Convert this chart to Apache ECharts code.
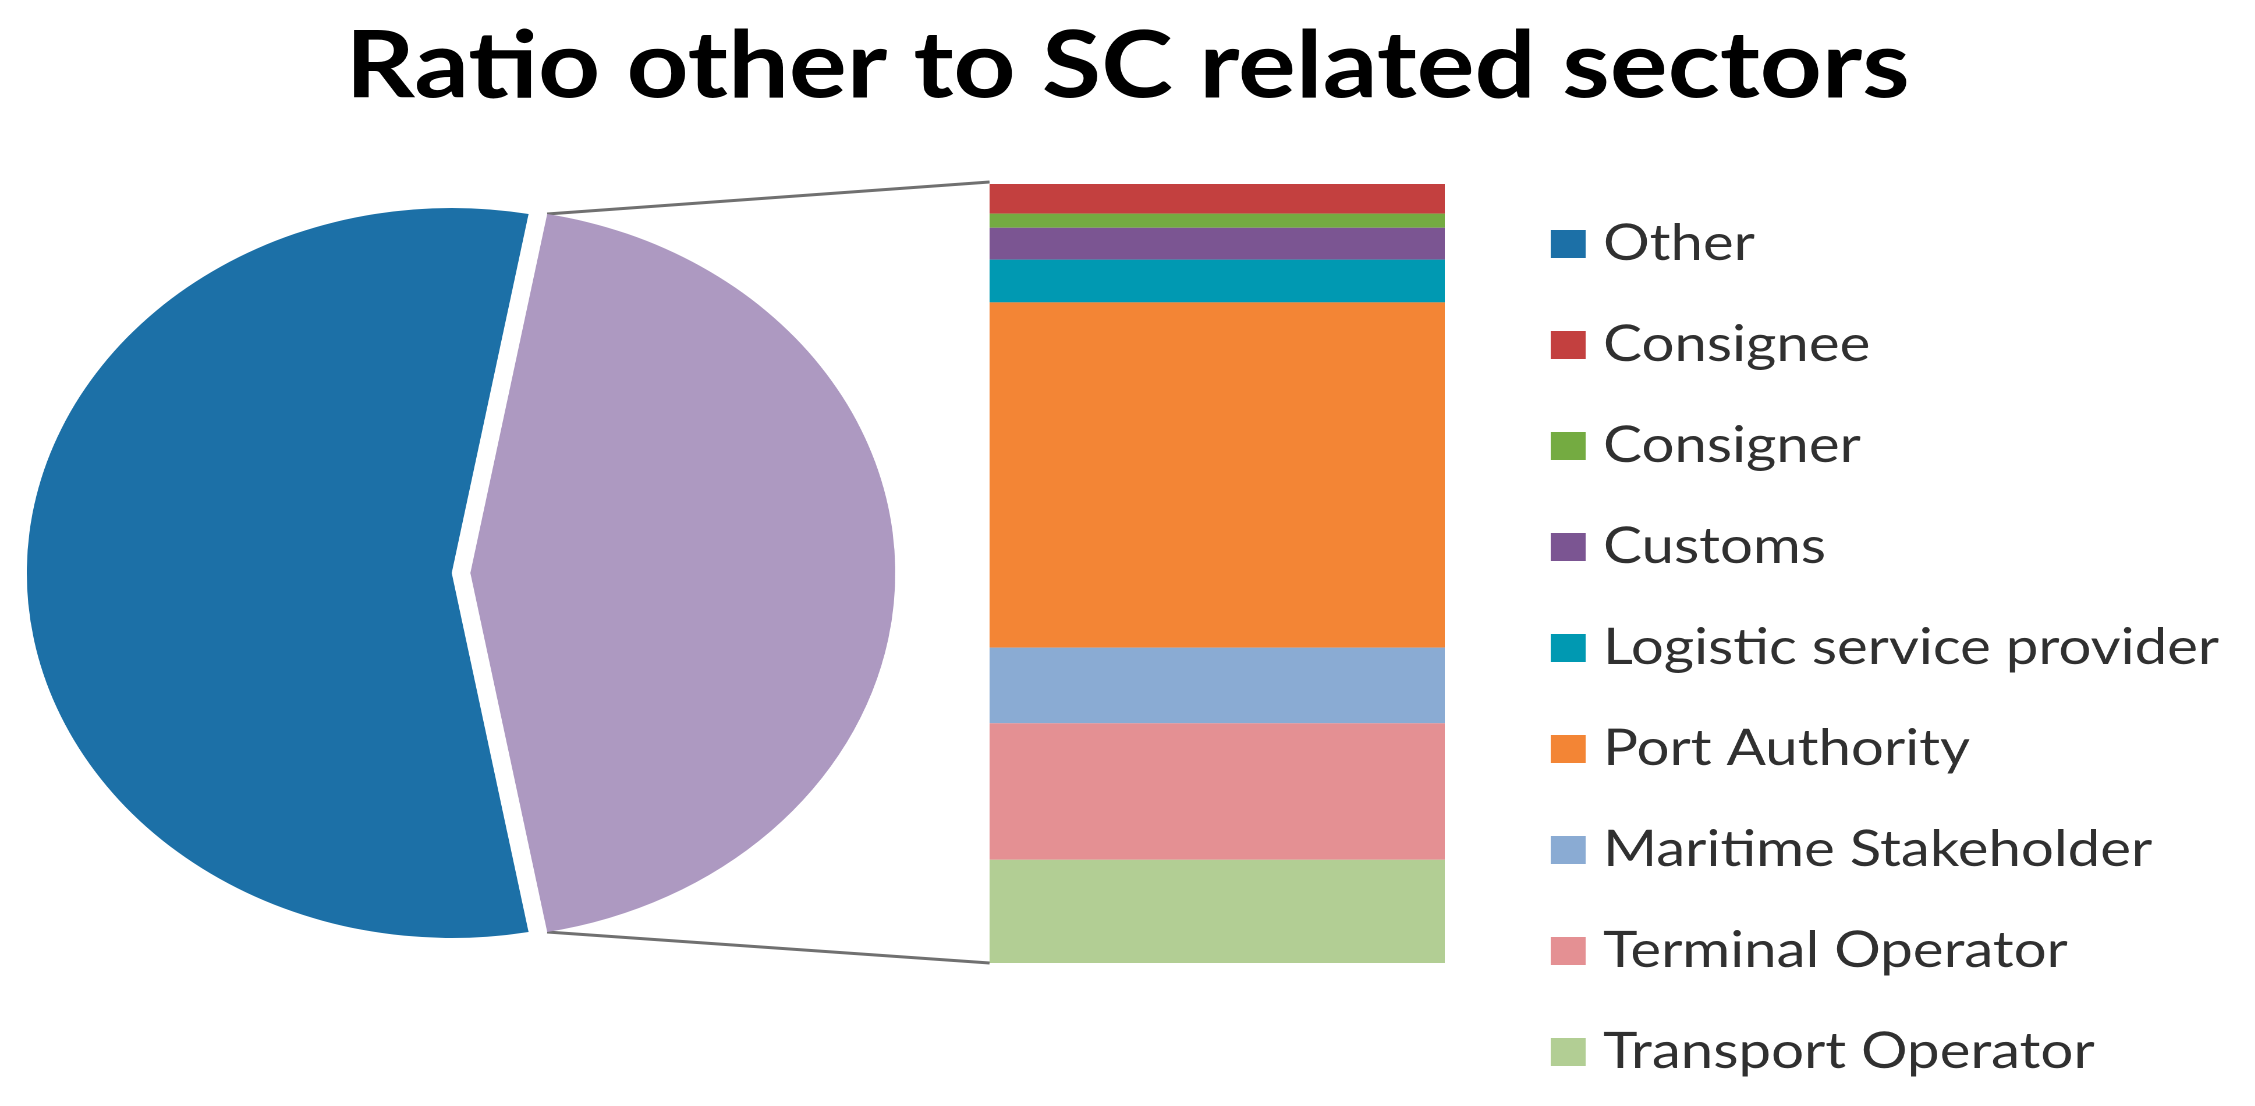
<!DOCTYPE html>
<html>
<head>
<meta charset="utf-8">
<script src="https://cdn.jsdelivr.net/npm/echarts@6/dist/echarts.min.js"></script>
<style>
  html, body { margin: 0; padding: 0; overflow: hidden; background: #fff; }
  /* the source picture is an Excel chart stretched sideways, so the chart is drawn narrow and widened */
  #main { width: 1937px; height: 1106px; transform: scaleX(1.1642); transform-origin: 0 0; }
</style>
</head>
<body>
<div id="main"></div>
<script>
// shares (percent of all respondents)
var otherShare = 55.8;
var sectors = ['Consignee', 'Consigner', 'Customs', 'Logistic service provider',
  'Port Authority', 'Maritime Stakeholder', 'Terminal Operator', 'Transport Operator'];
var sectorShares = [1.68, 0.80, 1.81, 2.43, 19.6, 4.29, 7.75, 5.86];

var sectorColors = ['#c3403f', '#74ab41', '#7b5592', '#0099b2',
  '#f38535', '#8aabd3', '#e49093', '#b2ce94'];

// layout (in the un-stretched frame)
var PIE_X = 396, PIE_Y = 573, PIE_R = 365, EXPLODE = 8;
var BAR_L = 850, BAR_T = 184, BAR_W = 391, BAR_H = 779;

var scTotal = sectorShares.reduce(function (a, b) { return a + b; }, 0);
// the SC slice sits centred on the right-hand side, like Excel's bar of pie
var startAngle = 180 * scTotal / (scTotal + otherShare);

var myChart = echarts.init(document.getElementById('main'), null, { devicePixelRatio: 2 });

var bars = sectors.map(function (name, i) {
  return {
    type: 'bar',
    name: name,
    stack: 'sc',
    barWidth: '100%',
    silent: true,
    data: [sectorShares[i]],
    itemStyle: { color: sectorColors[i] }
  };
});

myChart.setOption({
  animation: false,
  title: {
    text: 'Ratio other to SC related sectors',
    left: 'center',
    top: 16,
    textStyle: { fontFamily: 'Lato', fontWeight: 'bold', fontSize: 93, color: '#000' }
  },
  legend: {
    orient: 'vertical',
    left: 1332,
    top: 219,
    padding: 0,
    icon: 'rect',
    itemWidth: 30,
    itemHeight: 28,
    itemGap: 51,
    selectedMode: false,
    data: ['Other'].concat(sectors),
    textStyle: { fontFamily: 'Lato', fontSize: 50, lineHeight: 50, color: '#303030', padding: [0, 0, 0, 10] }
  },
  grid: { left: BAR_L, top: BAR_T, width: BAR_W, height: BAR_H },
  xAxis: { type: 'category', data: ['SC'], show: false },
  yAxis: { type: 'value', inverse: true, min: 0, max: scTotal, show: false },
  series: [{
    type: 'pie',
    name: 'Ratio',
    center: [PIE_X, PIE_Y],
    radius: [0, PIE_R],
    startAngle: startAngle,
    clockwise: true,
    selectedMode: 'multiple',
    selectedOffset: EXPLODE,
    silent: true,
    label: { show: false },
    labelLine: { show: false },
    select: { itemStyle: { borderWidth: 0 } },
    data: [
      { name: 'SC related sectors', value: scTotal, selected: true, itemStyle: { color: '#ad99c1' } },
      { name: 'Other', value: otherShare, selected: true, itemStyle: { color: '#1c70a7' } }
    ]
  }].concat(bars)
});

// connector lines from the SC slice to the top and bottom of the bar
var rad = startAngle * Math.PI / 180;
var ex = PIE_X + EXPLODE + PIE_R * Math.cos(rad);
var topY = myChart.convertToPixel({ yAxisIndex: 0 }, 0);
var botY = myChart.convertToPixel({ yAxisIndex: 0 }, scTotal);
myChart.setOption({
  graphic: [
    { type: 'line', silent: true, shape: { x1: ex, y1: PIE_Y - PIE_R * Math.sin(rad), x2: BAR_L, y2: topY - 2 },
      style: { stroke: '#707070', lineWidth: 3 } },
    { type: 'line', silent: true, shape: { x1: ex, y1: PIE_Y + PIE_R * Math.sin(rad), x2: BAR_L, y2: botY },
      style: { stroke: '#707070', lineWidth: 3 } }
  ]
});
</script>
</body>
</html>
